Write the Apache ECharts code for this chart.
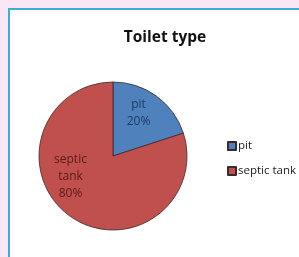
<!DOCTYPE html>
<html>
<head>
<meta charset="utf-8">
<script src="https://cdn.jsdelivr.net/npm/echarts@6/dist/echarts.min.js"></script>
<style>
  html, body { margin: 0; padding: 0; background: #fbe6f5; }
  #chart { width: 299px; height: 257px; }
</style>
</head>
<body>
<div id="chart"></div>
<script>
const categories = ['pit', 'septic tank'];
const shares = [20, 80];
const sliceColors = ['#4f81bd', '#c0504d'];
const labelColors = ['#1f3a66', '#5a1a18'];

const chart = echarts.init(document.getElementById('chart'), null, { renderer: 'canvas' });

// nudge the inside labels to where Excel put them
const labelShift = [[2, -11], [-19, -12]];

const option = {
    backgroundColor: '#fbe6f5',
    animation: false,
    graphic: [{
        type: 'rect',
        shape: { x: 9, y: 9, width: 300, height: 260 },
        style: { fill: '#ffffff', stroke: '#3bb0d2', lineWidth: 2 },
        z: -10
    }],
    title: {
        text: 'Toilet type',
        left: 160,
        top: 25,
        textAlign: 'center',
        textStyle: { fontFamily: 'Open Sans', fontSize: 15.5, fontWeight: 'bold', color: '#111' }
    },
    legend: {
        orient: 'vertical',
        left: 222,
        top: 135,
        itemWidth: 8,
        itemHeight: 8,
        itemGap: 13,
        icon: 'rect',
        textStyle: { fontFamily: 'Open Sans', fontSize: 11.5, color: '#222', padding: [0, 0, 0, -3] },
        data: categories
    },
    series: [{
        type: 'pie',
        center: [113, 156],
        radius: 74,
        startAngle: 90,
        clockwise: true,
        itemStyle: { borderColor: '#3a2a2a', borderWidth: 0.8 },
        label: {
            position: 'inside',
            fontFamily: 'Open Sans',
            fontSize: 12,
            lineHeight: 17,
            formatter: p => p.name.replace(' ', '\n') + '\n' + p.value + '%'
        },
        labelLayout: p => ({ dx: labelShift[p.dataIndex][0], dy: labelShift[p.dataIndex][1] }),
        data: categories.map((c, i) => ({
            name: c,
            value: shares[i],
            itemStyle: { color: sliceColors[i] },
            label: { color: labelColors[i] }
        }))
    }]
};

chart.setOption(option);
</script>
</body>
</html>
